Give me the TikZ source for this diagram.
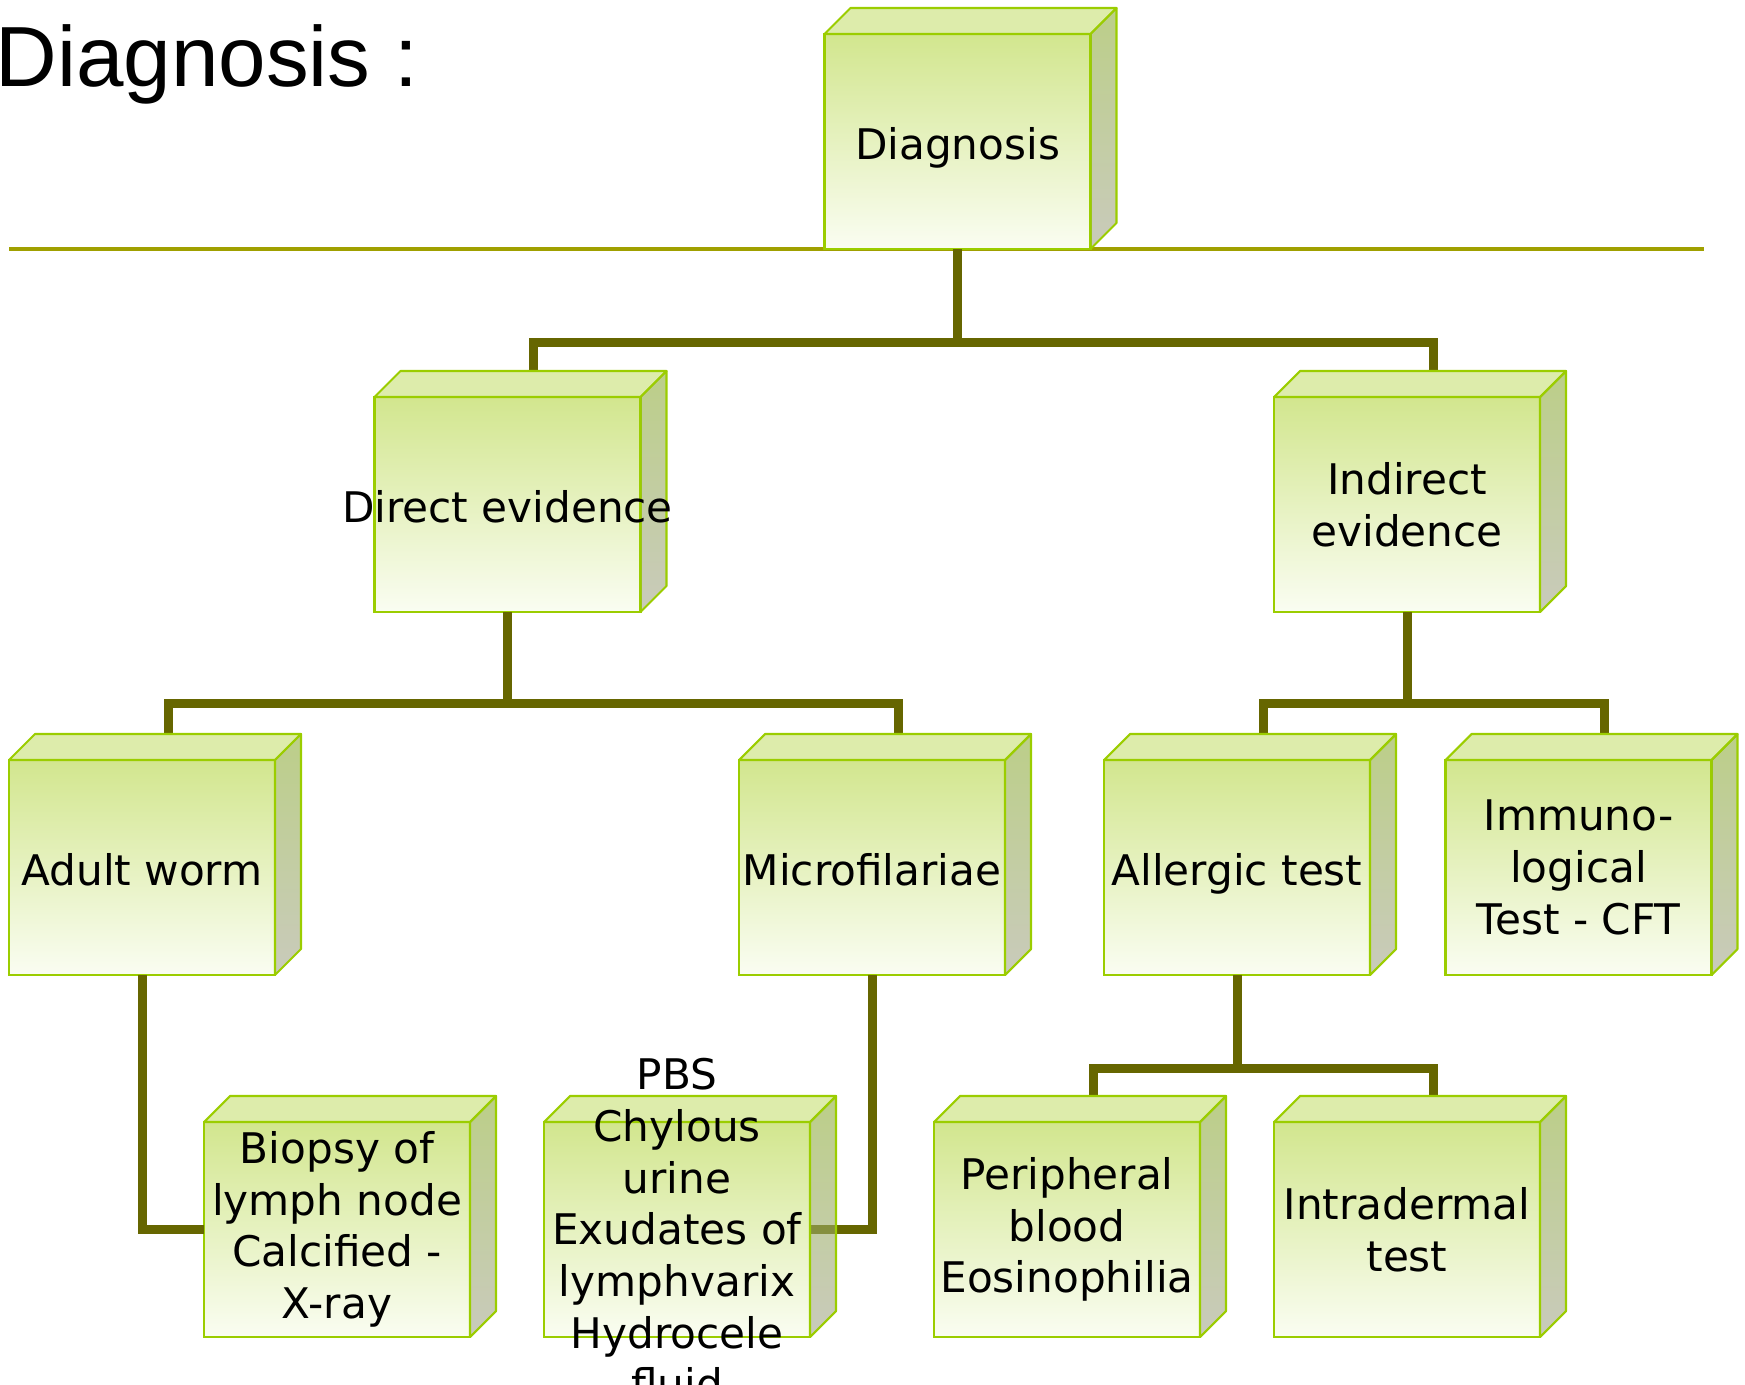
\documentclass[tikz,border=0pt]{standalone}
\usepackage{fontspec}
\setmainfont{DejaVu Sans}
\newfontfamily\titlefont{Liberation Sans}
\usepackage{tikz}
\usetikzlibrary{positioning}
\definecolor{boxline}{RGB}{155, 205, 0}
\definecolor{facetop}{RGB}{210, 230, 142}
\definecolor{facebot}{RGB}{250, 253, 242}
\definecolor{lidcol}{RGB}{221, 236, 171}
\definecolor{sidetop}{RGB}{143, 175, 57}
\definecolor{sidebot}{RGB}{165, 168, 142}
\definecolor{connect}{RGB}{102, 102, 0}
\definecolor{rulecol}{RGB}{160, 160, 0}

\begin{document}
\begin{tikzpicture}[x=0.1mm, y=-0.1mm,
  box/.style={rectangle, draw=boxline, line width=0.6pt,
              top color=facetop, bottom color=facebot,
              minimum width=26.6mm, minimum height=21.5mm,
              outer sep=0pt, inner sep=0pt},
  lid/.style={draw=boxline, line width=0.6pt, fill=lidcol, line join=round},
  side/.style={draw=boxline, line width=0.6pt, line join=round,
               top color=sidetop, bottom color=sidebot, fill opacity=0.6},
  boxtext/.style={align=center, inner sep=0pt,
                  font=\fontsize{12}{14.7}\selectfont},
  oneline/.style={boxtext, text height=10.5pt, text depth=0pt},
  conn/.style={draw=connect, line width=0.9mm},
  hrule/.style={draw=rulecol, line width=0.35mm}
]
  \useasboundingbox (0,0) rectangle (1745,1385);

  \node[anchor=base west, inner sep=0pt,
        font=\titlefont\fontsize{24.3}{28}\selectfont] (title) at (-5,87) {Diagnosis :};
  \draw[hrule] (9,249) -- (1704,249);

  \node[box] (diag)     at (957.5,141.5)  {};
  \node[box] (direct)   at (507.5,504.5)  {};
  \node[box] (indirect) at (1407,504.5)   {};
  \node[box] (adult)    at (142,867.5)    {};
  \node[box] (micro)    at (872,867.5)    {};
  \node[box] (allergic) at (1237,867.5)   {};
  \node[box] (immuno)   at (1578.5,867.5) {};
  \node[box] (biopsy)   at (337,1229.5)   {};
  \node[box] (pbs)      at (677,1229.5)   {};
  \node[box] (periph)   at (1067,1229.5)  {};
  \node[box] (intra)    at (1407,1229.5)  {};

  \coordinate[below=9.4mm of diag.south]     (jdiag);
  \coordinate[below=9.2mm of direct.south]   (jdirect);
  \coordinate[below=9.2mm of indirect.south] (jindirect);
  \coordinate[below=9.3mm of allergic.south] (jallergic);

  \draw[conn] (diag.south) -- (jdiag) -| ([xshift=2.6mm,yshift=2.6mm]direct.north);
  \draw[conn] (jdiag) -| ([xshift=2.6mm,yshift=2.6mm]indirect.north);
  \draw[conn] (direct.south) -- (jdirect) -| ([xshift=2.6mm,yshift=2.6mm]adult.north);
  \draw[conn] (jdirect) -| ([xshift=2.6mm,yshift=2.6mm]micro.north);
  \draw[conn] (indirect.south) -- (jindirect) -| ([xshift=2.6mm,yshift=2.6mm]allergic.north);
  \draw[conn] (jindirect) -| ([xshift=2.6mm,yshift=2.6mm]immuno.north);
  \draw[conn] (allergic.south) -- (jallergic) -| ([xshift=2.6mm,yshift=2.6mm]periph.north);
  \draw[conn] (jallergic) -| ([xshift=2.6mm,yshift=2.6mm]intra.north);
  \draw[conn] (adult.south) |- (biopsy.west);
  \draw[conn] (micro.south) |- (pbs.east);

  \foreach \n in {diag,direct,indirect,adult,micro,allergic,immuno,biopsy,pbs,periph,intra} {
    \path[lid] (\n.north west) -- ([xshift=2.6mm,yshift=2.6mm]\n.north west)
      -- ([xshift=2.6mm,yshift=2.6mm]\n.north east) -- (\n.north east) -- cycle;
    \path[side] (\n.north east) -- ([xshift=2.6mm,yshift=2.6mm]\n.north east)
      -- ([xshift=2.6mm,yshift=2.6mm]\n.south east) -- (\n.south east) -- cycle;
  }

  \node[oneline] (tdiag)     at (diag)     {Diagnosis};
  \node[oneline] (tdirect)   at (direct)   {Direct evidence};
  \node[boxtext] (tindirect) at (indirect) {Indirect\\evidence};
  \node[oneline] (tadult)    at (adult)    {Adult worm};
  \node[oneline] (tmicro)    at (micro)    {Microfilariae};
  \node[oneline] (tallergic) at (allergic) {Allergic test};
  \node[boxtext] (timmuno)   at (immuno)   {Immuno-\\logical\\Test - CFT};
  \node[boxtext] (tbiopsy)   at (biopsy)   {Biopsy of\\lymph node\\Calcified -\\X-ray};
  \node[boxtext] (tpbs)      at (pbs)      {PBS\\Chylous\\urine\\Exudates of\\lymphvarix\\Hydrocele\\fluid};
  \node[boxtext] (tperiph)   at (periph)   {Peripheral\\blood\\Eosinophilia};
  \node[boxtext] (tintra)    at (intra)    {Intradermal\\test};
\end{tikzpicture}
\end{document}
